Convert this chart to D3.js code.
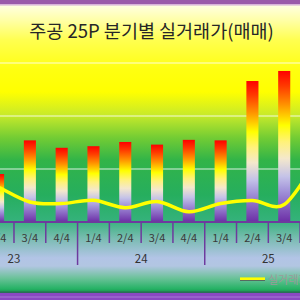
<!DOCTYPE html>
<html>
<head>
<meta charset="utf-8">
<script src="https://cdn.jsdelivr.net/npm/d3@7"></script>
<style>
  html, body { margin: 0; padding: 0; background: #fff; }
  svg { display: block; }
</style>
</head>
<body>
<div id="chart"></div>
<script>
// ---- data ----
const years = ["23", "24", "25"];
const quarters = ["1/4", "2/4", "3/4", "4/4"];
const categories = years.flatMap(y => quarters.map(q => y + "-" + q));
// bar series (values estimated; first and last categories lie outside the visible crop)
const barValues = [9500, 9050, 15400, 14000, 14300, 15100, 14600, 15500, 15400, 26600, 28500, null];
// line series "실거래가"
const lineValues = [9400, 6600, 3770, 3490, 4090, 2700, 3870, 1940, 3490, 4060, 3300, 11700];
const gridValues = [10000, 20000, 30000];
const titleText = "주공 25P 분기별 실거래가(매매)";
const legendLabel = "실거래가";

// ---- layout ----
const W = 300, H = 300;
const plotTop = 10, plotBottom = 222;

const svg = d3.select("#chart").append("svg").attr("width", W).attr("height", H);
const defs = svg.append("defs");

// chart background gradient
const bgStops = [
  [5, "#FFFFE2"], [20, "#FFFFA8"], [40, "#FFFF50"], [70, "#FFFF10"], [92, "#FFFF00"],
  [115, "#C8EA2A"], [138, "#72CC34"], [160, "#32B448"], [195, "#26AE5E"],
  [220, "#34B27A"], [238, "#78BCB0"], [258, "#B2C4E6"], [266, "#B2C6E2"],
  [278, "#6CC29A"], [289, "#24B264"], [292, "#1E9050"]
];
const bgGrad = defs.append("linearGradient").attr("id", "bg")
  .attr("gradientUnits", "userSpaceOnUse").attr("x1", 0).attr("x2", 0).attr("y1", 5).attr("y2", 292);
bgStops.forEach(([p, c]) => bgGrad.append("stop").attr("offset", (p - 5) / 287).attr("stop-color", c));

// bar gradient
const barStops = [
  [0, "#FF0000"], [0.1, "#FF3A00"], [0.22, "#FF9000"], [0.36, "#FFFF00"], [0.47, "#FFF27A"],
  [0.58, "#F4E8CC"], [0.7, "#C4C2E8"], [0.8, "#A090D8"], [1, "#6C2EA6"]
];
const barGrad = defs.append("linearGradient").attr("id", "barg")
  .attr("x1", 0).attr("x2", 0).attr("y1", 0).attr("y2", 1);
barStops.forEach(([p, c]) => barGrad.append("stop").attr("offset", p).attr("stop-color", c));

svg.append("rect").attr("x", 0).attr("y", 5).attr("width", W).attr("height", 287).attr("fill", "url(#bg)");

// frame bands
svg.append("rect").attr("x", 0).attr("y", 0).attr("width", W).attr("height", 4.2).attr("fill", "#9A5AAA");
svg.append("rect").attr("x", 0).attr("y", 4.2).attr("width", W).attr("height", 1.3).attr("fill", "#D4A8D4");
svg.append("rect").attr("x", 0).attr("y", 291.5).attr("width", W).attr("height", 1.5).attr("fill", "#2A6E58");
svg.append("rect").attr("x", 0).attr("y", 293).attr("width", W).attr("height", 7).attr("fill", "#8A48C2");
svg.append("rect").attr("x", 0).attr("y", 296.5).attr("width", W).attr("height", 1).attr("fill", "#A678D6");

// scales
const x = d3.scaleBand().domain(categories).range([-49.6, 331.9]).padding(0);
const y = d3.scaleLinear().domain([0, 40000]).range([plotBottom, plotTop]);

// gridlines
svg.append("g").selectAll("line").data(gridValues).join("line")
  .attr("x1", 0).attr("x2", W)
  .attr("y1", d => y(d)).attr("y2", d => y(d))
  .attr("stroke", "#FFFFFF").attr("stroke-opacity", 0.55).attr("stroke-width", 1.5);

// bars
const barW = x.bandwidth() * 0.38;
svg.append("g").selectAll("rect")
  .data(categories.map((c, i) => ({ c, v: barValues[i] })).filter(d => d.v != null))
  .join("rect")
  .attr("x", d => x(d.c) + (x.bandwidth() - barW) / 2)
  .attr("width", barW)
  .attr("y", d => y(d.v))
  .attr("height", d => y(0) - y(d.v))
  .attr("fill", "url(#barg)");

// line
const line = d3.line()
  .x((d, i) => x(categories[i]) + x.bandwidth() / 2)
  .y(d => y(d))
  .curve(d3.curveCatmullRom.alpha(0));
svg.append("path").datum(lineValues)
  .attr("d", line)
  .attr("fill", "none")
  .attr("stroke", "#FFFF00")
  .attr("stroke-width", 3.5)
  .attr("stroke-linecap", "round");

// x axis (multi-level)
const axisColor = "#6E3A9E";
svg.append("line").attr("x1", 0).attr("x2", W).attr("y1", plotBottom).attr("y2", plotBottom)
  .attr("stroke", axisColor).attr("stroke-width", 1.8);

const bounds = categories.map(c => x(c)).concat([x(categories[categories.length - 1]) + x.bandwidth()]);
svg.append("g").selectAll("line").data(bounds).join("line")
  .attr("x1", d => d).attr("x2", d => d)
  .attr("y1", plotBottom)
  .attr("y2", (d, i) => (i % 4 === 0) ? 265 : 243)
  .attr("stroke", axisColor).attr("stroke-width", 1.5);

const font = "'Noto Sans CJK KR', 'Noto Sans', sans-serif";
svg.append("g").selectAll("text").data(categories).join("text")
  .attr("x", d => x(d) + x.bandwidth() / 2)
  .attr("y", 237)
  .attr("text-anchor", "middle").attr("dominant-baseline", "central")
  .attr("font-family", font).attr("font-size", 11).attr("fill", "#3A3A3A")
  .text(d => d.split("-")[1]);

svg.append("g").selectAll("text").data(years).join("text")
  .attr("x", yr => {
    const a = x(yr + "-1/4"), b = x(yr + "-4/4") + x.bandwidth();
    return (a + b) / 2;
  })
  .attr("y", 258)
  .attr("text-anchor", "middle").attr("dominant-baseline", "central")
  .attr("font-family", font).attr("font-size", 11.5).attr("fill", "#333")
  .text(d => d);

// title
svg.append("text").attr("x", 151.5).attr("y", 30)
  .attr("text-anchor", "middle").attr("dominant-baseline", "central")
  .attr("font-family", font).attr("font-size", 18.5).attr("fill", "#262626")
  .text(titleText);

// legend
svg.append("line").attr("x1", 240).attr("x2", 265).attr("y1", 280.3).attr("y2", 280.3)
  .attr("stroke", "#555").attr("stroke-width", 1);
svg.append("line").attr("x1", 240).attr("x2", 265).attr("y1", 278.7).attr("y2", 278.7)
  .attr("stroke", "#FFFF00").attr("stroke-width", 2.6);
svg.append("text").attr("x", 268).attr("y", 279)
  .attr("dominant-baseline", "central")
  .attr("font-family", font).attr("font-size", 11).attr("fill", "#9A9A9A")
  .text(legendLabel);
</script>
</body>
</html>
